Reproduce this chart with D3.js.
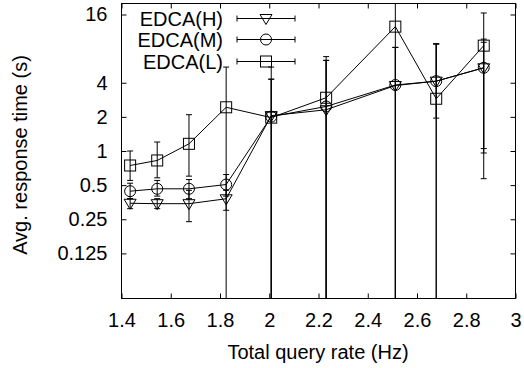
<!DOCTYPE html>
<html>
<head>
<meta charset="utf-8">
<script src="https://cdn.jsdelivr.net/npm/d3@7"></script>
<style>
body { margin: 0; background: #fff; }
text { font-family: "Liberation Sans", Arial, sans-serif; fill: #000; }
</style>
</head>
<body>
<script>
var width = 524;
var height = 368;

// query rate (Hz)
var rates = [1.435, 1.545, 1.674, 1.825, 2.008, 2.231, 2.512, 2.678, 2.871];

var highMean = [0.346, 0.343, 0.343, 0.379, 2.05, 2.31, 3.78, 4.13, 5.42];
var highLo = [0.31, 0.31, 0.238, 0.30, 0.01, 0.01, 0.01, 0.01, 1.05];
var highHi = [0.38, 0.38, 0.45, 0.45, 4.3, 6.3, 8.2, 8.8, 9.7];

var midMean = [0.442, 0.464, 0.464, 0.506, 2.01, 2.47, 3.82, 4.13, 5.42];
var midLo = [0.38, 0.40, 0.38, 0.40, 0.01, 0.01, 0.01, 0.01, 0.96];
var midHi = [0.52, 0.55, 0.56, 0.62, 4.3, 6.3, 8.2, 8.8, 9.1];

var lowMean = [0.745, 0.825, 1.157, 2.43, 1.97, 2.95, 12.5, 2.89, 8.5];
var lowLo = [0.55, 0.58, 0.6, 0.01, 0.01, 0.01, 0.01, 1.95, 0.57];
var lowHi = [1.0, 1.2, 2.09, 5.5, 5.5, 6.8, 40, 8.8, 16.5];

var xTicks = [1.4, 1.6, 1.8, 2, 2.2, 2.4, 2.6, 2.8, 3];
var yTicks = [0.125, 0.25, 0.5, 1, 2, 4, 16];

var seriesNames = ["EDCA(H)", "EDCA(M)", "EDCA(L)"];
var symbols = ["tri", "circle", "square"];

var padding = {top: 3, right: 9, bottom: 70, left: 121};
var w = width - padding.left - padding.right;
var h = height - padding.top - padding.bottom;

function build(mean, lo, hi) {
	return rates.map(function(r, i) {
		return {x: r, y: mean[i], lo: lo[i], hi: hi[i]};
	});
}
var series = [
	build(highMean, highLo, highHi),
	build(midMean, midLo, midHi),
	build(lowMean, lowLo, lowHi)
];

var svg = d3.select("body")
.append("svg")
.attr("width", width)
.attr("height", height);

svg.append("defs").append("clipPath")
.attr("id", "clip")
.append("rect")
.attr("x", 0).attr("y", 0)
.attr("width", w).attr("height", h);

var g = svg.append("g")
.attr("transform", "translate(" + (padding.left + 0.5) + "," + (padding.top + 0.5) + ")");

var xScale = d3.scaleLinear()
.domain([1.4, 3])
.range([0, w]);

var yScale = d3.scaleLog()
.domain([0.05, 20])
.range([h, 0]);

// axes, ticks pointing inward like gnuplot
var fmtY = function(d) { return String(d); };
var fmtX = function(d) { return String(d); };

g.append("g")
.attr("transform", "translate(0," + h + ")")
.call(d3.axisBottom(xScale).tickValues(xTicks).tickFormat(fmtX).tickSizeInner(-5).tickSizeOuter(0).tickPadding(14));
g.append("g")
.call(d3.axisTop(xScale).tickValues(xTicks).tickFormat("").tickSizeInner(-5).tickSizeOuter(0));
g.append("g")
.call(d3.axisLeft(yScale).tickValues(yTicks).tickFormat(fmtY).tickSizeInner(-5).tickSizeOuter(0).tickPadding(14));
g.append("g")
.attr("transform", "translate(" + w + ",0)")
.call(d3.axisRight(yScale).tickValues(yTicks).tickFormat("").tickSizeInner(-5).tickSizeOuter(0));

g.selectAll(".domain").remove();
g.selectAll(".tick line").attr("stroke", "#000");
g.selectAll(".tick text")
.style("font-size", "20px")
.attr("fill", "#000");

g.append("rect")
.attr("x", 0).attr("y", 0)
.attr("width", w).attr("height", h)
.attr("fill", "none")
.attr("stroke", "#000");

// axis titles
svg.append("text")
.attr("x", padding.left + w / 2)
.attr("y", 359)
.attr("text-anchor", "middle")
.style("font-size", "20px")
.text("Total query rate (Hz)");

svg.append("text")
.attr("transform", "translate(27," + 155 + ") rotate(-90)")
.attr("text-anchor", "middle")
.style("font-size", "20px")
.text("Avg. response time (s)");

// marks
var plot = g.append("g").attr("clip-path", "url(#clip)");

var linePath = d3.line()
.x(function(d) { return xScale(d.x); })
.y(function(d) { return yScale(d.y); });

function drawSymbol(sel, type, cx, cy) {
	if (type == "tri") {
		sel.append("path")
		.attr("d", "M" + (cx - 6) + "," + (cy - 4) + "L" + (cx + 6) + "," + (cy - 4) + "L" + cx + "," + (cy + 6) + "Z")
		.attr("fill", "none").attr("stroke", "#000");
	} else if (type == "circle") {
		sel.append("circle")
		.attr("cx", cx).attr("cy", cy).attr("r", 5.5)
		.attr("fill", "none").attr("stroke", "#000");
	} else {
		sel.append("rect")
		.attr("x", cx - 5.5).attr("y", cy - 5.5)
		.attr("width", 11).attr("height", 11)
		.attr("fill", "none").attr("stroke", "#000");
	}
}

series.forEach(function(data, k) {
	plot.append("path")
	.attr("d", linePath(data))
	.attr("fill", "none")
	.attr("stroke", "#000")
	.attr("stroke-width", 1);

	data.forEach(function(d) {
		var cx = xScale(d.x);
		plot.append("line")
		.attr("x1", cx).attr("x2", cx)
		.attr("y1", yScale(d.lo)).attr("y2", yScale(d.hi))
		.attr("stroke", "#000");
		[d.lo, d.hi].forEach(function(v) {
			plot.append("line")
			.attr("x1", cx - 3).attr("x2", cx + 3)
			.attr("y1", yScale(v)).attr("y2", yScale(v))
			.attr("stroke", "#000");
		});
		drawSymbol(plot, symbols[k], cx, yScale(d.y));
	});
});

// legend
var legend = svg.append("g");
var rowY = [18, 39, 61];
seriesNames.forEach(function(name, k) {
	var y = rowY[k] + 0.5;
	legend.append("text")
	.attr("x", 223)
	.attr("y", y + 7)
	.attr("text-anchor", "end")
	.style("font-size", "20px")
	.text(name);
	legend.append("line")
	.attr("x1", 237).attr("x2", 295)
	.attr("y1", y).attr("y2", y)
	.attr("stroke", "#000");
	[237, 295].forEach(function(x) {
		legend.append("line")
		.attr("x1", x).attr("x2", x)
		.attr("y1", y - 3).attr("y2", y + 3)
		.attr("stroke", "#000");
	});
	drawSymbol(legend, symbols[k], 266, y);
});
</script>
</body>
</html>
